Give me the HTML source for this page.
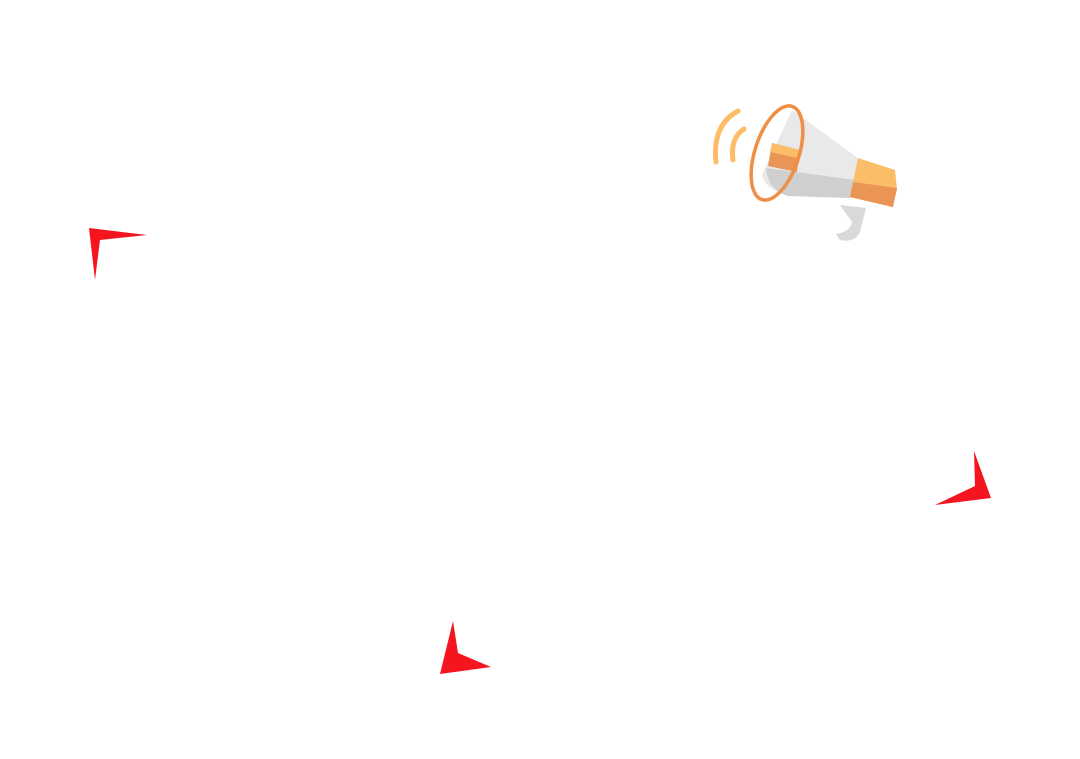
<!DOCTYPE html><html><head><style>body{margin:0;background:#fff}svg{display:block}</style></head><body>
<svg width="1080" height="759" viewBox="0 0 1080 759" xmlns="http://www.w3.org/2000/svg">
<polygon points="89,228 147,235 100,240 95,280" fill="#f5151f"/>
<polygon points="974,451 991,498 935,505 975,486" fill="#f5151f"/>
<polygon points="453,621 458,653 491,667 440,674" fill="#f5151f"/>
<!-- megaphone -->
<path d="M840,205 L866,208 L860,232 Q855,243 840,240 L836,234 Q850,232 852,222 Z" fill="#d9d9d9"/>
<path d="M792,110 L858,158 L852,198 L790,196 Q765,190 762,175 Z" fill="#e9e9e9"/>
<path d="M766,168 L855,180 L850,198 L788,196 Q768,190 766,168 Z" fill="#cfcfcf"/>
<path d="M858,158 L895,170 L897,190 L892,207 L850,197 Z" fill="#fbbd67"/>
<path d="M853,182 L897,188 L893,207 L850,197 Z" fill="#ea9456"/>
<path d="M772,143 L800,150 L797,172 L768,166 Z" fill="#ea9456"/>
<path d="M772,143 L800,150 L798,158 L770,152 Z" fill="#fbbd67"/>
<ellipse cx="777" cy="153" rx="22" ry="49" transform="rotate(18 777 153)" fill="none" stroke="#ee8f45" stroke-width="3.5"/>
<path d="M738,111 Q712,125 716,162" fill="none" stroke="#fbbd67" stroke-width="5" stroke-linecap="round"/>
<path d="M744,129 Q730,138 733,160" fill="none" stroke="#fbbd67" stroke-width="5" stroke-linecap="round"/>
</svg></body></html>
